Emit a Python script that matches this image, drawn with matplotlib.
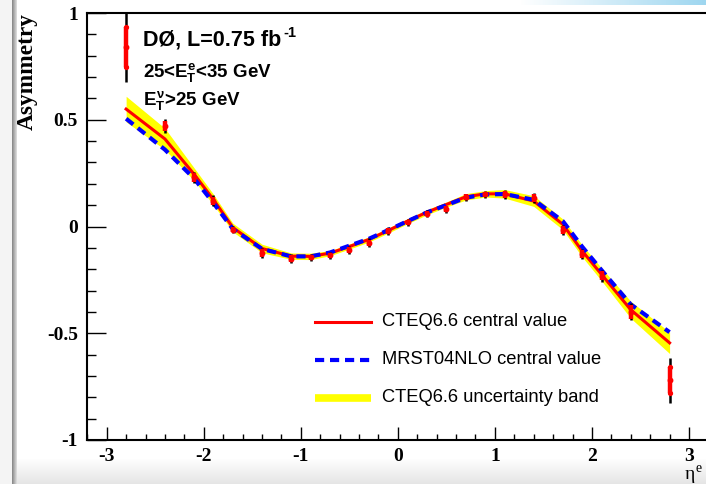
import numpy as np
import matplotlib
matplotlib.use("Agg")
import matplotlib.pyplot as plt
from matplotlib.lines import Line2D

plt.rcParams["axes.unicode_minus"] = False
plt.rcParams["mathtext.fontset"] = "custom"
plt.rcParams["mathtext.rm"] = "Liberation Sans:bold"
plt.rcParams["mathtext.it"] = "Liberation Sans:bold"
plt.rcParams["mathtext.bf"] = "Liberation Sans:bold"

# D0 electron charge asymmetry, 25 < ET(e) < 35 GeV
eta = [-2.8, -2.4, -2.1, -1.9, -1.7, -1.4, -1.1, -0.9, -0.7, -0.5, -0.3, -0.1,
       0.1, 0.3, 0.5, 0.7, 0.9, 1.1, 1.4, 1.7, 1.9, 2.1, 2.4, 2.8]
asym = [0.84, 0.47, 0.23, 0.12, -0.015, -0.125, -0.15, -0.145, -0.135, -0.108,
        -0.075, -0.023, 0.02, 0.06, 0.08, 0.136, 0.15, 0.15, 0.135, -0.015,
        -0.13, -0.23, -0.40, -0.72]
stat_err = [0.094, 0.025, 0.02, 0.02, 0.012, 0.018, 0.016, 0.012, 0.012, 0.014,
            0.014, 0.014, 0.012, 0.012, 0.014, 0.014, 0.012, 0.018, 0.018, 0.018,
            0.018, 0.022, 0.032, 0.06]
tot_err = [0.165, 0.032, 0.027, 0.026, 0.016, 0.023, 0.021, 0.016, 0.016, 0.019,
           0.019, 0.019, 0.016, 0.016, 0.018, 0.018, 0.016, 0.023, 0.023, 0.023,
           0.023, 0.028, 0.04, 0.105]

# theory predictions at the same eta points
cteq = [0.55, 0.41, 0.245, 0.126, -0.005, -0.103, -0.139, -0.14, -0.125, -0.094,
        -0.061, -0.019, 0.025, 0.067, 0.103, 0.139, 0.153, 0.153, 0.119, 0.01,
        -0.115, -0.225, -0.39, -0.545]
cteq_err = [0.06, 0.05, 0.03, 0.025, 0.02, 0.02, 0.015, 0.015, 0.012, 0.012, 0.012,
            0.012, 0.012, 0.012, 0.012, 0.015, 0.015, 0.02, 0.025, 0.025, 0.028,
            0.03, 0.04, 0.05]
mrst = [0.505, 0.36, 0.225, 0.11, -0.012, -0.105, -0.14, -0.14, -0.122, -0.09,
        -0.058, -0.017, 0.025, 0.066, 0.1, 0.135, 0.15, 0.152, 0.125, 0.025,
        -0.095, -0.205, -0.365, -0.495]

xticks = [-3, -2, -1, 0, 1, 2, 3]
xticklabels = ["-3", "-2", "-1", "0", "1", "2", "3"]
yticks = [-1, -0.5, 0, 0.5, 1]
yticklabels = ["-1", "-0.5", "0", "0.5", "1"]

W, H = 706, 484
fig = plt.figure(figsize=(W / 100, H / 100), dpi=100)

# window-like backdrop: grey strip on the left, soft shade at the bottom
bg = np.ones((H, W, 3))
bg[:, :12] = 0.96
for i, c in enumerate(np.linspace(0.55, 0.85, 5)):
    bg[:, 12 + i] = c
rows = np.arange(458, H)
shade = np.linspace(1.0, 0.9, len(rows))
bg[458:, 17:] = shade[:, None, None]
top = np.linspace(0, 1, W - 520)
bg[0:5, 520:] = (1 - top)[None, :, None] * 1.0 + top[None, :, None] * np.array([0.62, 0.84, 0.94])
ax_bg = fig.add_axes([0, 0, 1, 1])
ax_bg.imshow(bg, aspect="auto", interpolation="bilinear")
ax_bg.axis("off")

left = 87.3 / W
bottom = (H - 440) / H
ax = fig.add_axes([left, bottom, (708.4 - 87.3) / W, (440 - 13) / H])
ax.set_xlim(-3.2, 3.2)
ax.set_ylim(-1, 1)

lo = np.array(cteq) - np.array(cteq_err)
hi = np.array(cteq) + np.array(cteq_err)
ax.fill_between(eta, lo, hi, color="#ffff00", lw=0, zorder=1)
ax.plot(eta, cteq, color="#ff0000", lw=2.2, zorder=2)
ax.plot(eta, mrst, color="#0000ff", lw=3.0, ls=(0, (2.2, 1.4)), zorder=3)

ax.errorbar(eta, asym, yerr=tot_err, fmt="none", ecolor="black", elinewidth=1.8,
            capsize=0, zorder=4)
ax.errorbar(eta, asym, yerr=stat_err, fmt="none", ecolor="#ff0000", elinewidth=3.2,
            capsize=0, zorder=5)
ax.plot(eta, asym, "o", color="#ff0000", ms=3.2, zorder=6)
# red dots at the ends of the long statistical bars
e_arr, a_arr, s_arr = np.array(eta), np.array(asym), np.array(stat_err)
big = s_arr > 0.05
ax.plot(e_arr[big], a_arr[big] + s_arr[big], "o", color="#ff0000", ms=2.8, zorder=6)
ax.plot(e_arr[big], a_arr[big] - s_arr[big], "o", color="#ff0000", ms=2.8, zorder=6)

for s in ax.spines.values():
    s.set_linewidth(1.5)
ax.set_xticks(xticks)
ax.set_xticklabels(xticklabels)
ax.set_yticks(yticks)
ax.set_yticklabels(yticklabels)
ax.set_xticks(np.arange(-3.2, 3.21, 0.2), minor=True)
ax.set_yticks(np.arange(-1, 1.01, 0.1), minor=True)
ax.tick_params(axis="both", which="both", direction="in", width=1.0,
               top=False, right=False)
ax.tick_params(axis="y", which="major", length=13.7, pad=6.7)
ax.tick_params(axis="y", which="minor", length=6.8)
ax.tick_params(axis="x", which="major", length=9.2, pad=5.8)
ax.tick_params(axis="x", which="minor", length=4.6)
for lab in ax.get_xticklabels() + ax.get_yticklabels():
    lab.set_fontfamily("Liberation Serif")
    lab.set_fontweight("bold")
    lab.set_fontsize(14)

fig.text(27 / W, 1 - 13 / H, "Asymmetry", rotation=90, ha="center", va="top",
         fontsize=16.8, fontweight="bold", family="Liberation Serif")
fig.text(685 / W, 1 - 466 / H, "η", ha="left", va="top", fontsize=14,
         family="Liberation Serif")
fig.text(696 / W, 1 - 462 / H, "e", ha="left", va="top", fontsize=10,
         family="Liberation Serif")

# luminosity and kinematic cuts
fig.text(143 / W, 1 - 40 / H, "DØ, L=0.75 fb", ha="left", va="center",
         fontsize=15.5, fontweight="bold", family="Liberation Sans")
fig.text(283 / W, 1 - 33 / H, "-1", ha="left", va="center",
         fontsize=10.5, fontweight="bold", family="Liberation Sans")
fig.text(143 / W, 1 - 72 / H, r"25<$E_T^e$<35 GeV", ha="left", va="center",
         fontsize=13.5, fontweight="bold", family="Liberation Sans")
fig.text(143 / W, 1 - 100 / H, r"$E_T^{ν}$>25 GeV", ha="left", va="center",
         fontsize=13.5, fontweight="bold", family="Liberation Sans")

# legend drawn by hand, ROOT TLegend style
entries = [
    ("CTEQ6.6 central value", dict(color="#ff0000", lw=2.2)),
    ("MRST04NLO central value", dict(color="#0000ff", lw=3.0, ls=(0, (2.2, 1.4)))),
    ("CTEQ6.6 uncertainty band", dict(color="#ffff00", lw=5.5, solid_capstyle="butt")),
]
rows_y = [322, 360, 398]
for (label, style), yy in zip(entries, rows_y):
    fy = 1 - yy / H
    fig.add_artist(Line2D([315 / W, 371 / W], [fy, fy], **style))
    fig.text(382 / W, fy, label, ha="left", va="center", fontsize=13.2,
             family="Liberation Sans")

fig.savefig("out.png", dpi=100)
